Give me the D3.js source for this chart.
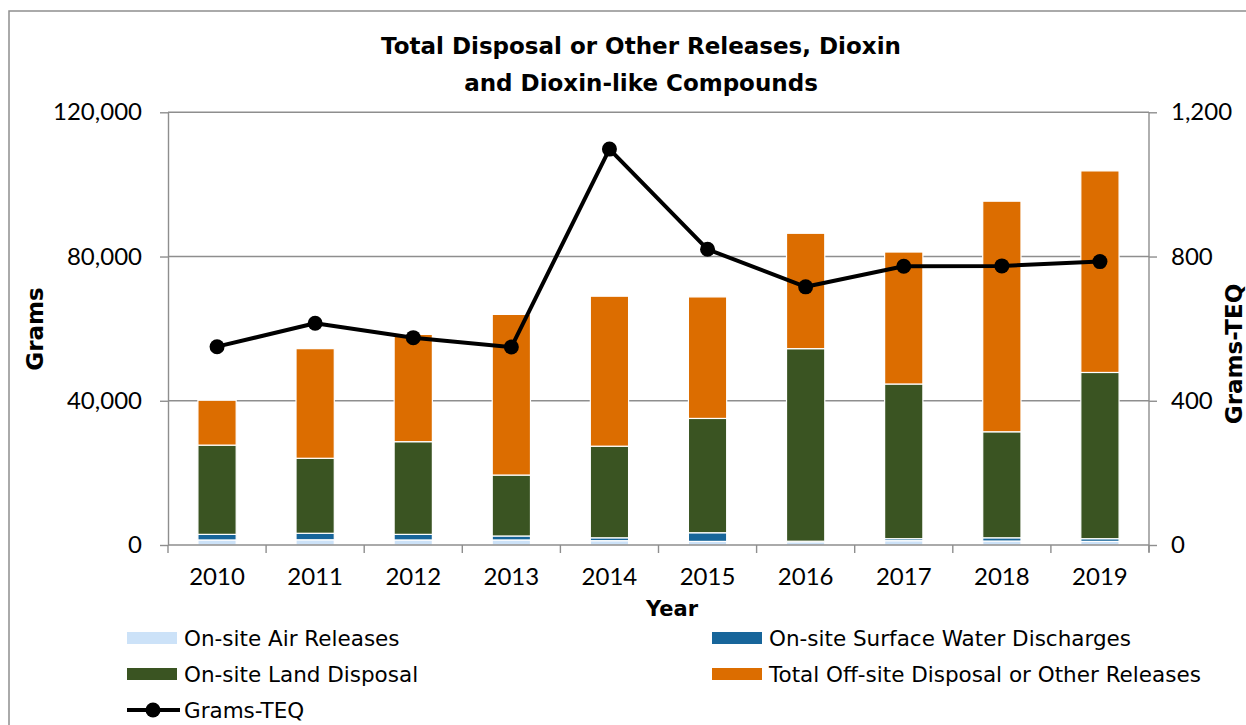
<!DOCTYPE html>
<html>
<head>
<meta charset="utf-8">
<script src="https://cdn.jsdelivr.net/npm/d3@7"></script>
<style>
  html, body { margin: 0; padding: 0; background: #ffffff; }
  svg { display: block; font-family: Lato, "Open Sans", sans-serif; }
  .wide { font-family: "DejaVu Sans", Verdana, sans-serif; }
</style>
</head>
<body>
<svg id="chart" width="1246" height="725"></svg>
<script>
// Annual releases of dioxin and dioxin-like compounds, in grams
const years = ["2010", "2011", "2012", "2013", "2014", "2015", "2016", "2017", "2018", "2019"];
const airReleases      = [1400, 1450, 1400, 1400, 1200, 1000,   900, 1200,  1100,  1000];
const waterDischarges  = [1550, 1800, 1550, 1100,  800, 2400,   150,  550,   900,   750];
const landDisposal     = [24750, 20800, 25700, 16900, 25400, 31700, 53400, 42900, 29400, 46100];
const offsiteReleases  = [12450, 30400, 29750, 44550, 41600, 33700, 32000, 36600, 63950, 55900];
// Toxic-equivalent total, in grams-TEQ (right axis)
const gramsTEQ = [550, 615, 575, 549, 1098, 820, 716, 773, 774, 786];

const gramsTicks = [0, 40000, 80000, 120000];
const teqTicks = [0, 400, 800, 1200];

const seriesNames = ["On-site Air Releases", "On-site Surface Water Discharges",
                     "On-site Land Disposal", "Total Off-site Disposal or Other Releases"];
const seriesColors = ["#cce2f8", "#17659a", "#3a5422", "#dc6d00"];
const lineName = "Grams-TEQ";

const rows = years.map((y, i) => ({
  year: y,
  air: airReleases[i],
  water: waterDischarges[i],
  land: landDisposal[i],
  offsite: offsiteReleases[i],
  teq: gramsTEQ[i]
}));
const keys = ["air", "water", "land", "offsite"];

const svg = d3.select("#chart");
const plot = { left: 168, right: 1149, top: 112.3, bottom: 545 };
const gridColor = "#8e8e8e";

// Chart-area frame
svg.append("rect")
  .attr("x", 9).attr("y", 11)
  .attr("width", 1300).attr("height", 800)
  .attr("fill", "none").attr("stroke", gridColor).attr("stroke-width", 1.5);

const x = d3.scaleBand().domain(years)
  .range([plot.left, plot.right]).paddingInner(0.61).paddingOuter(0.305);
const y = d3.scaleLinear().domain([0, 120000]).range([plot.bottom, plot.top]);
const y2 = d3.scaleLinear().domain([0, 1200]).range([plot.bottom, plot.top]);

// Horizontal gridlines
svg.append("g").selectAll("line").data(gramsTicks.filter(t => t > 0)).join("line")
  .attr("x1", plot.left).attr("x2", plot.right)
  .attr("y1", d => y(d)).attr("y2", d => y(d))
  .attr("stroke", gridColor).attr("stroke-width", 1.4);

// Stacked bars
const stack = d3.stack().keys(keys)(rows);
svg.append("g").selectAll("g").data(stack).join("g")
  .attr("fill", (d, i) => seriesColors[i])
  .selectAll("rect").data(d => d).join("rect")
  .attr("x", d => x(d.data.year))
  .attr("width", x.bandwidth())
  .attr("y", d => y(d[1]))
  .attr("height", d => y(d[0]) - y(d[1]))
  .attr("stroke", "#ffffff").attr("stroke-width", 1.2);

const tickFont = 24;

// Left axis
const yAxis = d3.axisLeft(y).tickValues(gramsTicks)
  .tickFormat(d3.format(",")).tickSize(8).tickSizeOuter(0).tickPadding(18);
const gy = svg.append("g").attr("transform", `translate(${plot.left},0)`).call(yAxis);

// Right axis
const y2Axis = d3.axisRight(y2).tickValues(teqTicks)
  .tickFormat(d3.format(",")).tickSize(8).tickSizeOuter(0).tickPadding(14);
const gy2 = svg.append("g").attr("transform", `translate(${plot.right},0)`).call(y2Axis);

// Bottom axis: ticks at category boundaries, labels at category centres
const gx = svg.append("g").attr("transform", `translate(0,${plot.bottom})`);
gx.append("line").attr("x1", plot.left).attr("x2", plot.right)
  .attr("stroke", gridColor).attr("stroke-width", 1.4);
const step = x.step();
const boundaries = d3.range(years.length + 1).map(i => plot.left + i * step);
gx.selectAll("line.tick").data(boundaries).join("line").attr("class", "tick")
  .attr("x1", d => d).attr("x2", d => d).attr("y1", 0).attr("y2", 8)
  .attr("stroke", gridColor).attr("stroke-width", 1.4);
gx.selectAll("text").data(years).join("text")
  .attr("x", d => x(d) + x.bandwidth() / 2).attr("y", 40)
  .attr("text-anchor", "middle").attr("font-size", tickFont).attr("fill", "#000")
  .text(d => d);

[gy, gy2].forEach(g => {
  g.select(".domain").attr("stroke", gridColor).attr("stroke-width", 1.4);
  g.selectAll(".tick line").attr("stroke", gridColor).attr("stroke-width", 1.4);
  g.selectAll(".tick text").attr("font-size", tickFont).attr("fill", "#000")
    .attr("font-family", "Lato, sans-serif");
});
// right axis spine extends slightly below the baseline
gy2.select(".domain").attr("d", `M0,${plot.top}V${plot.bottom + 7}`);

// Grams-TEQ line with markers
const line = d3.line().x(d => x(d.year) + x.bandwidth() / 2).y(d => y2(d.teq));
svg.append("path").datum(rows)
  .attr("d", line).attr("fill", "none")
  .attr("stroke", "#000").attr("stroke-width", 4).attr("stroke-linejoin", "round");
svg.append("g").selectAll("circle").data(rows).join("circle")
  .attr("cx", d => x(d.year) + x.bandwidth() / 2).attr("cy", d => y2(d.teq))
  .attr("r", 7.5).attr("fill", "#000");

// Titles
const title = svg.append("text").attr("class", "wide").attr("text-anchor", "middle")
  .attr("font-size", 23).attr("font-weight", "bold").attr("fill", "#000");
title.append("tspan").attr("x", 641).attr("y", 54).text("Total Disposal or Other Releases, Dioxin");
title.append("tspan").attr("x", 641).attr("y", 91).text("and Dioxin-like Compounds");

svg.append("text").attr("class", "wide").attr("transform", "translate(43,329) rotate(-90)")
  .attr("text-anchor", "middle").attr("font-size", 23).attr("font-weight", "bold")
  .text("Grams");
svg.append("text").attr("class", "wide").attr("transform", "translate(1242,354) rotate(-90)")
  .attr("text-anchor", "middle").attr("font-size", 23).attr("font-weight", "bold")
  .text("Grams-TEQ");
svg.append("text").attr("class", "wide").attr("x", 672).attr("y", 616)
  .attr("text-anchor", "middle").attr("font-size", 21).attr("font-weight", "bold")
  .text("Year");

// Legend
const legendItems = seriesNames.map((n, i) => ({
  name: n, color: seriesColors[i],
  col: i % 2, row: Math.floor(i / 2)
}));
const legendX = [127, 712];
const legendY = [638, 674, 710];
const legendFont = 21.5;
const lg = svg.append("g");
legendItems.forEach(it => {
  const gx0 = legendX[it.col], gy0 = legendY[it.row];
  lg.append("rect").attr("x", gx0).attr("y", gy0 - 6).attr("width", 50).attr("height", 12)
    .attr("fill", it.color);
  lg.append("text").attr("class", "wide").attr("x", gx0 + 57).attr("y", gy0 + 8)
    .attr("font-size", legendFont).attr("fill", "#000").text(it.name);
});
lg.append("line").attr("x1", legendX[0]).attr("x2", legendX[0] + 53)
  .attr("y1", legendY[2]).attr("y2", legendY[2])
  .attr("stroke", "#000").attr("stroke-width", 4);
lg.append("circle").attr("cx", legendX[0] + 26).attr("cy", legendY[2]).attr("r", 7.5).attr("fill", "#000");
lg.append("text").attr("class", "wide").attr("x", legendX[0] + 57).attr("y", legendY[2] + 8)
  .attr("font-size", legendFont).attr("fill", "#000").text(lineName);
</script>
</body>
</html>
